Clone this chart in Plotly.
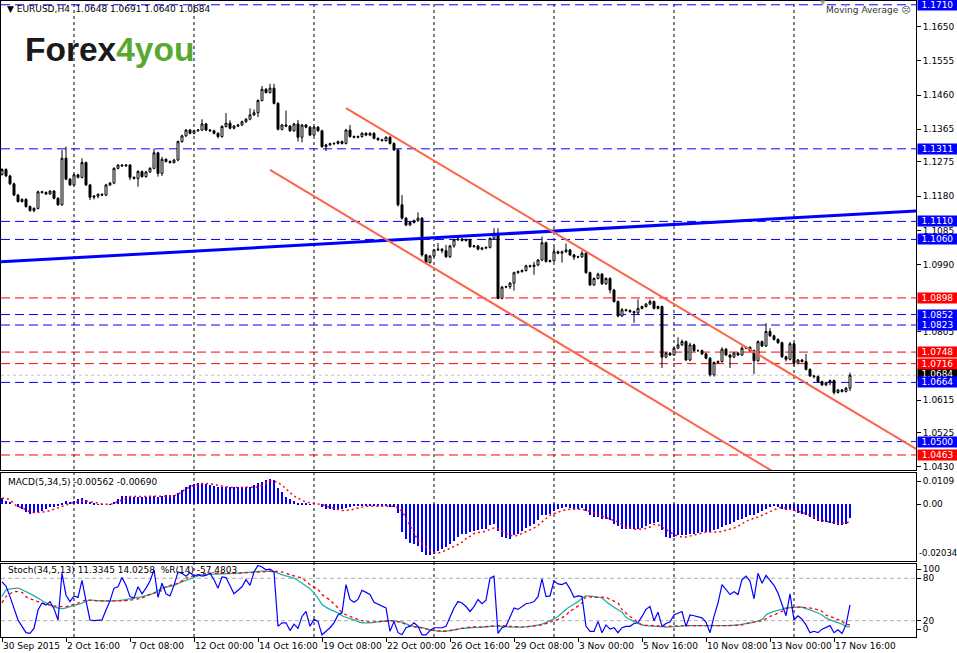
import plotly.graph_objects as go

# ====== DATA ======
n_bars = 213
bar_index = list(range(n_bars))
first_open = 1.1240

close = [
    1.1254, 1.1236, 1.1214, 1.1183, 1.1165, 1.1171, 1.1151, 1.1140, 1.1146, 1.1192,
    1.1190, 1.1186, 1.1194, 1.1174, 1.1156, 1.1285, 1.1227, 1.1211, 1.1239, 1.1232,
    1.1273, 1.1211, 1.1177, 1.1180, 1.1185, 1.1183, 1.1211, 1.1216, 1.1257, 1.1266,
    1.1264, 1.1266, 1.1232, 1.1229, 1.1248, 1.1234, 1.1247, 1.1257, 1.1300, 1.1243,
    1.1282, 1.1276, 1.1273, 1.1280, 1.1331, 1.1347, 1.1363, 1.1354, 1.1361, 1.1363,
    1.1380, 1.1363, 1.1361, 1.1354, 1.1345, 1.1373, 1.1382, 1.1368, 1.1374, 1.1377,
    1.1386, 1.1393, 1.1405, 1.1411, 1.1445, 1.1476, 1.1467, 1.1479, 1.1437, 1.1365,
    1.1377, 1.1374, 1.1361, 1.1380, 1.1343, 1.1377, 1.1371, 1.1349, 1.1371, 1.1361,
    1.1317, 1.1322, 1.1325, 1.1326, 1.1331, 1.1326, 1.1363, 1.1345, 1.1343, 1.1345,
    1.1354, 1.1349, 1.1354, 1.1340, 1.1336, 1.1334, 1.1343, 1.1326, 1.1308, 1.1156,
    1.1119, 1.1100, 1.1107, 1.1112, 1.1119, 1.1017, 1.0996, 1.1014, 1.1031, 1.1033,
    1.1029, 1.1012, 1.1042, 1.1059, 1.1061, 1.1057, 1.1059, 1.1040, 1.1042, 1.1033,
    1.1036, 1.1038, 1.1063, 1.1077, 1.0897, 1.0928, 1.0929, 1.0939, 1.0968, 1.0971,
    1.0974, 1.0987, 1.0985, 1.0989, 1.1003, 1.1051, 1.0999, 1.1001, 1.1026, 1.1022,
    1.1026, 1.1031, 1.1017, 1.1011, 1.1012, 1.1022, 1.0968, 1.0934, 1.0952, 1.0964,
    1.0937, 1.0952, 1.0920, 1.0888, 1.0848, 1.0865, 1.0863, 1.0860, 1.0857, 1.0869,
    1.0874, 1.0881, 1.0888, 1.0869, 1.0874, 1.0734, 1.0745, 1.0740, 1.0759, 1.0768,
    1.0777, 1.0726, 1.0768, 1.0752, 1.0752, 1.0743, 1.0731, 1.0685, 1.0719, 1.0722,
    1.0756, 1.0740, 1.0734, 1.0745, 1.0740, 1.0759, 1.0761, 1.0752, 1.0724, 1.0777,
    1.0765, 1.0805, 1.0793, 1.0783, 1.0774, 1.0735, 1.0728, 1.0771, 1.0717, 1.0726,
    1.0722, 1.0700, 1.0682, 1.0680, 1.0666, 1.0657, 1.0663, 1.0669, 1.0636, 1.0643,
    1.0639, 1.0648, 1.0684,
]

# wick lengths in pips above / below the candle body
up_wick_pips = [
    3, 3, 3, 3, 3, 3, 3, 3, 3, 3,
    3, 3, 3, 3, 3, 23, 32, 3, 3, 3,
    12, 3, 3, 3, 3, 3, 3, 3, 3, 3,
    3, 3, 3, 3, 4, 3, 3, 3, 12, 3,
    7, 3, 3, 3, 3, 3, 3, 3, 3, 3,
    13, 3, 3, 3, 3, 3, 28, 8, 3, 3,
    3, 3, 18, 9, 3, 9, 3, 12, 12, 3,
    3, 40, 3, 3, 11, 3, 3, 3, 3, 3,
    3, 3, 3, 3, 3, 3, 3, 14, 3, 3,
    3, 3, 3, 3, 3, 3, 3, 3, 3, 3,
    27, 3, 3, 3, 16, 3, 3, 3, 3, 17,
    3, 16, 3, 3, 9, 3, 3, 3, 3, 3,
    3, 3, 3, 14, 14, 3, 3, 3, 3, 3,
    3, 3, 3, 9, 3, 17, 3, 3, 14, 3,
    3, 18, 3, 3, 3, 7, 3, 3, 3, 4,
    3, 3, 3, 3, 3, 5, 3, 3, 3, 25,
    3, 3, 6, 3, 3, 3, 3, 3, 3, 21,
    6, 3, 6, 3, 3, 3, 3, 3, 3, 3,
    5, 3, 3, 3, 3, 5, 3, 3, 3, 3,
    3, 23, 9, 3, 3, 3, 3, 5, 3, 3,
    3, 21, 3, 3, 3, 3, 3, 3, 3, 3,
    3, 3, 7,
]
down_wick_pips = [
    3, 3, 3, 3, 3, 3, 3, 3, 5, 3,
    3, 3, 3, 3, 3, 3, 3, 3, 3, 3,
    3, 3, 8, 6, 6, 3, 3, 3, 3, 3,
    3, 3, 8, 3, 23, 3, 3, 3, 3, 9,
    7, 3, 3, 3, 3, 3, 3, 3, 3, 3,
    3, 3, 3, 3, 5, 3, 3, 3, 3, 3,
    3, 3, 3, 3, 12, 3, 3, 3, 3, 3,
    3, 3, 3, 3, 12, 14, 3, 3, 3, 3,
    3, 12, 3, 3, 3, 3, 3, 3, 3, 3,
    3, 3, 3, 3, 3, 3, 3, 3, 3, 5,
    4, 3, 3, 3, 3, 5, 3, 3, 3, 3,
    7, 3, 3, 5, 3, 3, 3, 3, 3, 3,
    3, 3, 3, 3, 3, 3, 3, 6, 21, 3,
    3, 3, 3, 23, 3, 3, 3, 3, 3, 3,
    26, 3, 3, 8, 3, 3, 3, 3, 3, 3,
    3, 3, 9, 3, 4, 3, 3, 3, 28, 6,
    3, 3, 3, 3, 3, 30, 3, 3, 3, 3,
    3, 2, 3, 3, 3, 3, 3, 5, 5, 3,
    3, 3, 30, 3, 3, 3, 3, 3, 37, 3,
    3, 3, 3, 3, 3, 3, 6, 3, 9, 3,
    3, 3, 3, 5, 3, 3, 3, 7, 6, 3,
    3, 3, 8,
]

macd_hist = [
    0.0024, 0.0015, 0.0008, 0.0000, -0.0012, -0.0020, -0.0029, -0.0040, -0.0036, -0.0029,
    -0.0025, -0.0017, -0.0012, -0.0009, -0.0007, 0.0004, 0.0013, 0.0011, 0.0015, 0.0020,
    0.0024, 0.0017, 0.0008, 0.0004, 0.0001, -0.0001, 0.0000, 0.0001, 0.0011, 0.0020,
    0.0033, 0.0033, 0.0031, 0.0031, 0.0031, 0.0028, 0.0028, 0.0028, 0.0033, 0.0031,
    0.0033, 0.0036, 0.0036, 0.0039, 0.0047, 0.0057, 0.0070, 0.0077, 0.0082, 0.0085,
    0.0085, 0.0082, 0.0079, 0.0073, 0.0071, 0.0069, 0.0069, 0.0068, 0.0068, 0.0068,
    0.0068, 0.0068, 0.0071, 0.0076, 0.0084, 0.0091, 0.0099, 0.0103, 0.0096, 0.0065,
    0.0048, 0.0031, 0.0020, 0.0012, 0.0007, 0.0004, 0.0003, 0.0001, 0.0000, 0.0000,
    -0.0011, -0.0017, -0.0020, -0.0024, -0.0020, -0.0017, -0.0015, -0.0011, -0.0008, -0.0007,
    -0.0004, -0.0004, -0.0004, -0.0005, -0.0007, -0.0007, -0.0008, -0.0009, -0.0011, -0.0033,
    -0.0111, -0.0137, -0.0153, -0.0157, -0.0167, -0.0191, -0.0204, -0.0204, -0.0197, -0.0188,
    -0.0177, -0.0171, -0.0157, -0.0148, -0.0131, -0.0119, -0.0117, -0.0111, -0.0108, -0.0104,
    -0.0100, -0.0097, -0.0084, -0.0077, -0.0108, -0.0131, -0.0135, -0.0137, -0.0124, -0.0117,
    -0.0108, -0.0095, -0.0087, -0.0077, -0.0064, -0.0044, -0.0041, -0.0037, -0.0028, -0.0020,
    -0.0015, -0.0011, -0.0015, -0.0017, -0.0017, -0.0015, -0.0028, -0.0044, -0.0051, -0.0051,
    -0.0057, -0.0057, -0.0064, -0.0077, -0.0087, -0.0100, -0.0097, -0.0097, -0.0100, -0.0097,
    -0.0095, -0.0087, -0.0077, -0.0073, -0.0071, -0.0104, -0.0131, -0.0135, -0.0131, -0.0124,
    -0.0121, -0.0124, -0.0117, -0.0117, -0.0113, -0.0111, -0.0111, -0.0111, -0.0104, -0.0100,
    -0.0091, -0.0084, -0.0077, -0.0071, -0.0064, -0.0057, -0.0051, -0.0044, -0.0044, -0.0033,
    -0.0028, -0.0017, -0.0011, -0.0008, -0.0011, -0.0017, -0.0024, -0.0020, -0.0028, -0.0033,
    -0.0037, -0.0041, -0.0051, -0.0057, -0.0068, -0.0071, -0.0071, -0.0073, -0.0077, -0.0081,
    -0.0081, -0.0077, -0.0056,
]

macd_signal = [
    0.0024, 0.0024, 0.0017, 0.0004, -0.0012, -0.0012, -0.0023, -0.0029, -0.0033, -0.0033,
    -0.0032, -0.0029, -0.0025, -0.0020, -0.0015, -0.0009, -0.0003, 0.0004, 0.0008, 0.0011,
    0.0013, 0.0013, 0.0011, 0.0008, 0.0005, 0.0001, 0.0000, 0.0000, 0.0004, 0.0011,
    0.0017, 0.0024, 0.0031, 0.0031, 0.0031, 0.0031, 0.0030, 0.0030, 0.0030, 0.0030,
    0.0031, 0.0031, 0.0032, 0.0033, 0.0040, 0.0052, 0.0062, 0.0069, 0.0076, 0.0079,
    0.0083, 0.0083, 0.0083, 0.0080, 0.0076, 0.0072, 0.0069, 0.0067, 0.0067, 0.0067,
    0.0067, 0.0067, 0.0067, 0.0067, 0.0069, 0.0076, 0.0083, 0.0092, 0.0092, 0.0087,
    0.0076, 0.0063, 0.0047, 0.0033, 0.0023, 0.0016, 0.0009, 0.0005, 0.0003, 0.0001,
    -0.0001, -0.0007, -0.0012, -0.0017, -0.0023, -0.0025, -0.0025, -0.0024, -0.0020, -0.0015,
    -0.0011, -0.0008, -0.0008, -0.0008, -0.0008, -0.0008, -0.0008, -0.0008, -0.0008, -0.0015,
    -0.0028, -0.0055, -0.0084, -0.0117, -0.0144, -0.0157, -0.0171, -0.0184, -0.0193, -0.0195,
    -0.0191, -0.0184, -0.0175, -0.0167, -0.0161, -0.0151, -0.0137, -0.0128, -0.0117, -0.0113,
    -0.0111, -0.0108, -0.0100, -0.0095, -0.0097, -0.0108, -0.0117, -0.0124, -0.0127, -0.0124,
    -0.0117, -0.0111, -0.0104, -0.0095, -0.0084, -0.0071, -0.0060, -0.0044, -0.0037, -0.0031,
    -0.0028, -0.0021, -0.0020, -0.0020, -0.0020, -0.0020, -0.0024, -0.0028, -0.0033, -0.0041,
    -0.0047, -0.0055, -0.0060, -0.0064, -0.0071, -0.0081, -0.0091, -0.0095, -0.0100, -0.0100,
    -0.0100, -0.0097, -0.0091, -0.0081, -0.0081, -0.0091, -0.0104, -0.0113, -0.0121, -0.0127,
    -0.0131, -0.0131, -0.0127, -0.0121, -0.0117, -0.0113, -0.0111, -0.0111, -0.0111, -0.0111,
    -0.0108, -0.0104, -0.0100, -0.0095, -0.0088, -0.0077, -0.0068, -0.0061, -0.0057, -0.0051,
    -0.0044, -0.0037, -0.0028, -0.0020, -0.0015, -0.0012, -0.0015, -0.0020, -0.0024, -0.0028,
    -0.0031, -0.0037, -0.0044, -0.0051, -0.0057, -0.0064, -0.0068, -0.0071, -0.0073, -0.0075,
    -0.0075, -0.0075, -0.0069,
]

# %R(14) as drawn in the stochastic window (shifted onto the 0..100 scale)
wpr_line = [
    75, 69, 54, 37, 21, 12, 3, 2, 9, 35,
    45, 42, 47, 37, 21, 87, 56, 47, 55, 53,
    77, 48, 21, 20, 21, 21, 35, 48, 66, 68,
    81, 70, 54, 52, 68, 58, 66, 76, 92, 53,
    73, 58, 55, 70, 89, 87, 83, 88, 83, 85,
    83, 84, 87, 78, 66, 82, 81, 70, 58, 63,
    68, 78, 70, 89, 98, 96, 92, 93, 89, 12,
    17, 17, 6, 15, 9, 26, 33, 12, 22, 19,
    0, 5, 10, 17, 28, 31, 71, 50, 46, 50,
    63, 60, 57, 46, 43, 40, 38, 5, 19, 3,
    0, 10, 12, 17, 12, 0, 0, 6, 10, 10,
    10, 12, 24, 38, 47, 45, 40, 33, 40, 50,
    44, 49, 80, 83, 2, 10, 12, 26, 38, 36,
    40, 44, 45, 47, 54, 79, 54, 55, 76, 72,
    71, 74, 65, 53, 55, 54, 12, 5, 5, 19,
    3, 14, 8, 10, 3, 10, 12, 12, 16, 17,
    26, 36, 40, 20, 32, 12, 16, 18, 28, 31,
    33, 12, 28, 27, 25, 24, 18, 3, 26, 45,
    71, 64, 57, 61, 57, 78, 83, 76, 51, 87,
    73, 84, 77, 70, 59, 43, 27, 58, 21, 27,
    22, 14, 3, 5, 3, 8, 10, 13, 3, 7,
    2, 14, 42.5,
]

stoch_main_bars = [0, 1, 4, 6, 9, 12, 15, 17, 20, 22, 25, 28, 30, 33, 35, 38, 40, 43, 45, 48,
                   50, 53, 58, 63, 65, 68, 70, 73, 75, 77, 79, 80, 82, 84, 85, 88, 90, 92, 95, 97,
                   100, 102, 105, 107, 110, 112, 115, 117, 120, 122, 125, 127, 130, 132, 135, 137,
                   139, 141, 144, 146, 148, 150, 151, 153, 155, 156, 158, 160, 161, 164, 166, 169,
                   171, 175, 178, 181, 184, 186, 188, 190, 191, 193, 195, 196, 198, 200, 201, 203,
                   205, 206, 208, 210, 211, 212]
stoch_main = [54, 63, 66, 61, 52, 42, 37, 40, 45, 49, 48, 48, 49, 52, 54, 59, 66, 70, 75, 81,
              85, 86, 87, 89, 90, 89, 85, 80, 73, 65, 52, 43, 36, 31, 27, 21, 17, 17, 19, 20,
              18, 13, 10, 7, 5, 6, 9, 10, 11, 12, 12, 11, 11, 12, 15, 20,
              26, 36, 47, 55, 54, 52, 47, 39, 32, 25, 19, 14, 13, 12, 11, 12,
              13, 13, 13, 13, 14, 16, 18, 22, 28, 33, 36, 38, 39, 39, 37, 33,
              28, 24, 19, 15, 12, 11.3345]

stoch_sig_bars = [0, 1, 3, 5, 6, 8, 10, 13, 15, 16, 19, 21, 24, 26, 30, 32, 35, 36, 38, 40,
                  41, 44, 46, 49, 51, 58, 65, 67, 70, 72, 75, 77, 79, 80, 82, 84, 85, 87, 90, 92,
                  95, 97, 100, 102, 105, 107, 110, 112, 115, 117, 120, 122, 125, 127, 130, 132,
                  135, 137, 140, 142, 145, 146, 148, 151, 152, 154, 155, 157, 159, 160, 163, 166,
                  170, 174, 178, 181, 185, 187, 190, 192, 195, 196, 198, 200, 203, 205, 206, 208,
                  210, 211, 212]
stoch_sig = [45, 54, 61, 60, 54, 49, 45, 41, 40, 40, 45, 49, 48, 48, 48, 49, 52, 55, 59, 63,
             68, 73, 80, 85, 87, 87, 89, 90, 89, 85, 80, 71, 64, 57, 49, 38, 31, 26, 20, 18,
             19, 20, 17, 12, 10, 7, 5, 6, 9, 11, 11, 12, 13, 12, 11, 12,
             14, 18, 24, 33, 45, 54, 53, 53, 50, 45, 36, 26, 18, 14, 13, 12,
             13, 13, 13, 13, 14, 17, 20, 26, 33, 37, 39, 39, 37, 33, 28, 24,
             19, 15, 14.0258]

time_label_bars = [0, 16, 32, 48, 64, 80, 96, 112, 128, 144, 160, 176, 192, 208]
time_labels = ["30 Sep 2015", "2 Oct 16:00", "7 Oct 08:00", "12 Oct 00:00", "14 Oct 16:00",
               "19 Oct 08:00", "22 Oct 00:00", "26 Oct 16:00", "29 Oct 08:00", "3 Nov 00:00",
               "5 Nov 16:00", "10 Nov 08:00", "13 Nov 00:00", "17 Nov 16:00"]
grid_bars = [18, 48, 78, 108, 138, 168, 198]

price_ticks = [1.1650, 1.1555, 1.1460, 1.1365, 1.1275, 1.1180, 1.1085, 1.0990,
               1.0805, 1.0615, 1.0525, 1.0430]
blue_levels = [1.1710, 1.1311, 1.1110, 1.1060, 1.0852, 1.0823, 1.0664, 1.0500]
red_levels = [1.0898, 1.0748, 1.0716, 1.0463]
last_price = 1.0684

macd_ticks = [0.0093, 0.0]
macd_tick_labels = ["0.0109", "0.00"]
macd_min_label_pos = -0.0195
macd_min_label = "-0.02034"

# trend lines: (bar, price) anchors
blue_trend_bars = [-0.25, 228.5]
blue_trend_prices = [1.0998, 1.1139]
channel_top_bars = [86, 228.5]
channel_top_prices = [1.1424, 1.0480]
channel_low_bars = [67, 200]
channel_low_prices = [1.1253, 1.0369]

# ====== BUILD OHLC ======
open_ = [first_open] + close[:-1]
high = [max(o, c) + u * 0.0001 for o, c, u in zip(open_, close, up_wick_pips)]
low = [min(o, c) - d * 0.0001 for o, c, d in zip(open_, close, down_wick_pips)]

FONT = "DejaVu Sans"
X_RANGE = [-0.25, 228.5]

fig = go.Figure()

fig.add_trace(go.Candlestick(
    x=bar_index, open=open_, high=high, low=low, close=close,
    increasing=dict(line=dict(color="black", width=1), fillcolor="white"),
    decreasing=dict(line=dict(color="black", width=1), fillcolor="black"),
    whiskerwidth=0, xaxis="x", yaxis="y", hoverinfo="skip",
))

fig.add_trace(go.Scatter(x=blue_trend_bars, y=blue_trend_prices, mode="lines",
                         line=dict(color="#0000FF", width=3), xaxis="x", yaxis="y"))
fig.add_trace(go.Scatter(x=channel_top_bars, y=channel_top_prices, mode="lines",
                         line=dict(color="#FF6347", width=2), xaxis="x", yaxis="y"))
fig.add_trace(go.Scatter(x=channel_low_bars, y=channel_low_prices, mode="lines",
                         line=dict(color="#FF6347", width=2), xaxis="x", yaxis="y"))

# MACD window
fig.add_trace(go.Bar(x=bar_index, y=macd_hist, width=0.22, marker=dict(color="#0000FF", line=dict(width=0)),
                     xaxis="x2", yaxis="y2"))
fig.add_trace(go.Scatter(x=bar_index, y=macd_signal, mode="lines",
                         line=dict(color="#FF0000", width=1.5, dash="2px,3px"), xaxis="x2", yaxis="y2"))

# Stochastic window
fig.add_trace(go.Scatter(x=stoch_main_bars, y=stoch_main, mode="lines",
                         line=dict(color="#20B2AA", width=1.3, shape="spline", smoothing=0.6),
                         xaxis="x3", yaxis="y3"))
fig.add_trace(go.Scatter(x=stoch_sig_bars, y=stoch_sig, mode="lines",
                         line=dict(color="#FF0000", width=1.3, dash="3px,3px", shape="spline", smoothing=0.6),
                         xaxis="x3", yaxis="y3"))
fig.add_trace(go.Scatter(x=bar_index, y=wpr_line, mode="lines",
                         line=dict(color="#0000FF", width=1.2), xaxis="x3", yaxis="y3"))

# ====== SHAPES ======
shapes = []
for b in grid_bars:
    shapes.append(dict(type="line", xref="x", yref="paper", x0=b, x1=b, y0=0, y1=1,
                       line=dict(color="black", width=1, dash="3px,3px"), layer="below"))
for lv in blue_levels:
    shapes.append(dict(type="line", xref="paper", yref="y", x0=0, x1=1, y0=lv, y1=lv,
                       line=dict(color="#0000FF", width=1, dash="9px,5px"), layer="below"))
for lv in red_levels:
    shapes.append(dict(type="line", xref="paper", yref="y", x0=0, x1=1, y0=lv, y1=lv,
                       line=dict(color="#FF0000", width=1, dash="9px,5px"), layer="below"))
shapes.append(dict(type="line", xref="paper", yref="y", x0=0, x1=1, y0=last_price, y1=last_price,
                   line=dict(color="#C0C0C0", width=1, dash="dot"), layer="below"))
for lv in [80, 20]:
    shapes.append(dict(type="line", xref="paper", yref="y3", x0=0, x1=1, y0=lv, y1=lv,
                       line=dict(color="#B0B0B0", width=1, dash="4px,3px"), layer="below"))

# ====== ANNOTATIONS ======
ann = []


def price_box(value, bg, shift=0):
    ann.append(dict(xref="paper", yref="y", x=1, y=value, xanchor="left", yanchor="middle",
                    xshift=1, yshift=shift, text=f"{value:.4f}", showarrow=False, bgcolor=bg,
                    width=39, height=10, borderpad=0, align="center",
                    font=dict(family=FONT, size=9, color="white")))


price_box(last_price, "black", shift=1)
for lv in blue_levels:
    price_box(lv, "#0000FF")
for lv in red_levels:
    price_box(lv, "#FF0000")

ann.append(dict(xref="paper", yref="y2", x=1, y=macd_min_label_pos, xanchor="left", yanchor="middle",
                xshift=1, text=macd_min_label, showarrow=False,
                font=dict(family=FONT, size=8.5, color="black")))
ann.append(dict(xref="paper", yref="paper", x=0.004, y=0.987, xanchor="left", yanchor="middle",
                text="▼ EURUSD,H4  1.0648 1.0691 1.0640 1.0684", showarrow=False,
                font=dict(family=FONT, size=9, color="black")))
ann.append(dict(xref="paper", yref="paper", x=0.997, y=0.986, xanchor="right", yanchor="middle",
                text="Moving Average ☹", showarrow=False,
                font=dict(family=FONT, size=9, color="#333333")))
ann.append(dict(xref="paper", yref="paper", x=0.898, y=0.997, xanchor="center", yanchor="middle",
                text="▼", showarrow=False, font=dict(family=FONT, size=7, color="#A0A0A0")))
ann.append(dict(xref="paper", yref="paper", x=0.024, y=0.923, xanchor="left", yanchor="middle",
                text="<b>Forex</b><b><span style='color:#5aa832'>4you</span></b>", showarrow=False,
                font=dict(family="Liberation Sans", size=33.5, color="#1a1a1a")))
ann.append(dict(xref="paper", yref="paper", x=0.005, y=0.244, xanchor="left", yanchor="middle",
                text="MACD(5,34,5) -0.00562 -0.00690", showarrow=False,
                font=dict(family=FONT, size=9, color="black")))
ann.append(dict(xref="paper", yref="paper", x=0.005, y=0.105, xanchor="left", yanchor="middle",
                text="Stoch(34,5,13) 11.3345 14.0258  %R(14) -57.4803", showarrow=False,
                font=dict(family=FONT, size=9, color="black")))

axis_common = dict(showgrid=False, zeroline=False, showline=True, mirror=True,
                   linecolor="black", linewidth=1, automargin=False)

fig.update_layout(
    width=957, height=653,
    margin=dict(l=1, r=41, t=1, b=16, autoexpand=False),
    paper_bgcolor="white", plot_bgcolor="white",
    showlegend=False, bargap=0,
    font=dict(family=FONT, size=9, color="black"),
    xaxis=dict(domain=[0, 1], range=X_RANGE, anchor="y", showticklabels=False,
               rangeslider=dict(visible=False), **axis_common),
    xaxis2=dict(domain=[0, 1], range=X_RANGE, anchor="y2", matches="x", showticklabels=False, **axis_common),
    xaxis3=dict(domain=[0, 1], range=X_RANGE, anchor="y3", matches="x",
                tickvals=time_label_bars, ticktext=time_labels, ticks="outside", ticklen=4,
                tickcolor="black", ticklabelposition="outside right", tickangle=0,
                tickfont=dict(family=FONT, size=9), **axis_common),
    yaxis=dict(domain=[0.2626, 1.0], range=[1.04214, 1.17205], side="right", anchor="x",
               tickvals=price_ticks, ticktext=[f"{p:.4f}" for p in price_ticks],
               ticks="outside", ticklen=4, tickcolor="black",
               tickfont=dict(family=FONT, size=9), **axis_common),
    yaxis2=dict(domain=[0.1195, 0.2579], range=[-0.02268, 0.01252], side="right", anchor="x2",
                tickvals=macd_ticks, ticktext=macd_tick_labels,
                ticks="outside", ticklen=4, tickcolor="black",
                tickfont=dict(family=FONT, size=9), **axis_common),
    yaxis3=dict(domain=[0.0, 0.1148], range=[-3.1, 100.2], side="right", anchor="x3",
                tickvals=[93, 80, 20, 8], ticktext=["100", "80", "20", "0"],
                ticks="outside", ticklen=4, tickcolor="black",
                tickfont=dict(family=FONT, size=9), **axis_common),
    shapes=shapes,
    annotations=ann,
)

# page body margin would shift the fixed-size figure; remove it
fig.write_html("out.html", config={"displayModeBar": False},
               post_script="document.body.style.margin='0px';")
